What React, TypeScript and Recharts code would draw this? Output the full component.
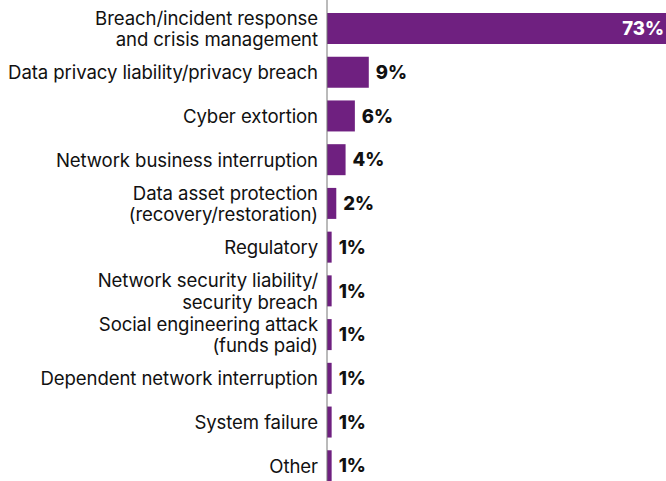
import React from "react";
import { BarChart, Bar, XAxis, YAxis, LabelList } from "recharts";

const categories: string[] = [
  "Breach/incident response\nand crisis management",
  "Data privacy liability/privacy breach",
  "Cyber extortion",
  "Network business interruption",
  "Data asset protection\n(recovery/restoration)",
  "Regulatory",
  "Network security liability/\nsecurity breach",
  "Social engineering attack\n(funds paid)",
  "Dependent network interruption",
  "System failure",
  "Other",
];
const values: number[] = [73, 9, 6, 4, 2, 1, 1, 1, 1, 1, 1];

const data = categories.map((c, i) => ({ name: c, value: values[i] }));

const FONT = "Inter, sans-serif";
const PURPLE = "#6F2080";

const Tick = (props: any) => {
  const { x, y, payload } = props;
  const lines: string[] = String(payload.value).split("\n");
  const lh = 21.5;
  const start = -((lines.length - 1) * lh) / 2;
  return (
    <text x={x - 1} y={y} textAnchor="end" fontFamily={FONT} fontSize={18.6} letterSpacing={-0.1} fill="#111">
      {lines.map((l, i) => (
        <tspan key={i} x={x - 1} y={y + start + i * lh} dy="0.36em">
          {l}
        </tspan>
      ))}
    </text>
  );
};

const ValueLabel = (props: any) => {
  const { x, y, width, height, value, index } = props;
  const inside = index === 0;
  return (
    <text
      x={inside ? x + width - 2 : x + width + 7}
      y={y + height / 2}
      dy="0.36em"
      textAnchor={inside ? "end" : "start"}
      fontFamily={FONT}
      fontWeight={800}
      fontSize={18.5}
      fill={inside ? "#fff" : "#111"}
    >
      {value}%
    </text>
  );
};

export default function App() {
  return (
    <div style={{ position: "absolute", left: 0, top: 0, width: 666, height: 481, overflow: "hidden" }}>
      <BarChart
        width={666}
        height={488}
        data={data}
        layout="vertical"
        margin={{ top: 0, right: 0, bottom: 0, left: 0 }}
      >
        <XAxis type="number" domain={[0, 73]} hide />
        <YAxis
          type="category"
          dataKey="name"
          width={327}
          tick={<Tick />}
          tickLine={false}
          axisLine={{ stroke: "#777", strokeWidth: 1 }}
          interval={0}
          padding={{ top: 7, bottom: 0 }}
        />
        <Bar dataKey="value" fill={PURPLE} barSize={31} isAnimationActive={false}>
          <LabelList dataKey="value" content={<ValueLabel />} />
        </Bar>
      </BarChart>
    </div>
  );
}
